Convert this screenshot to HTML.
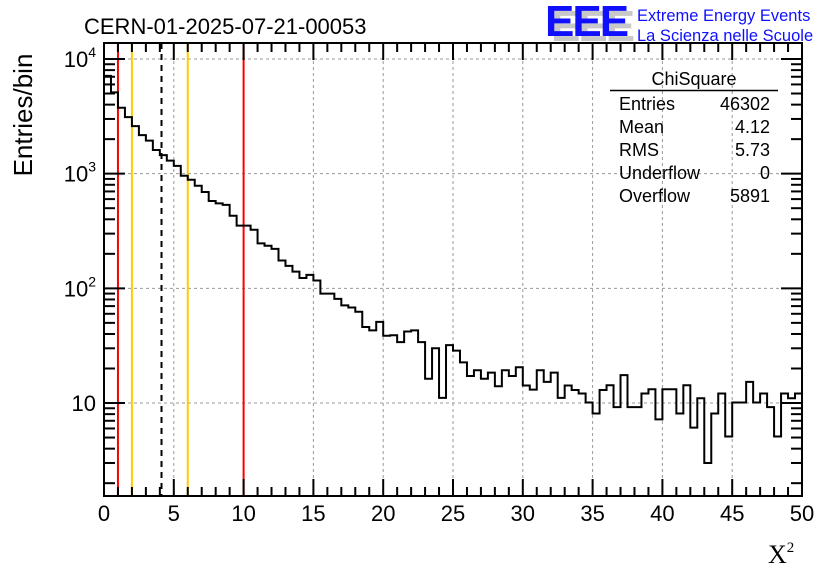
<!DOCTYPE html>
<html><head><meta charset="utf-8"><style>
body{margin:0;background:#fff}
svg{display:block;font-family:"Liberation Sans",sans-serif}
</style></head><body>
<svg id="c" width="836" height="572" viewBox="0 0 836 572">
<text x="84" y="34" font-size="22">CERN-01-2025-07-21-00053</text>
<g>
<text x="551" y="41" font-size="44" font-weight="bold" fill="#c8c8c8" letter-spacing="-2">EEE</text>
<text x="545" y="36" font-size="44" font-weight="bold" fill="#1010ff" letter-spacing="-2">EEE</text>
<text x="637" y="21" font-size="16.5" fill="#1010ff">Extreme Energy Events</text>
<text x="637" y="41" font-size="16.5" fill="#1010ff">La Scienza nelle Scuole</text>
</g>
<g id="grid"></g>
<g id="vlines"></g>
<path id="hist" fill="none" stroke="#000" stroke-width="2"/>
<g id="axes"></g>
<text x="32" y="115" font-size="26" transform="rotate(-90 32 115)" text-anchor="middle">Entries/bin</text>
<text x="768" y="563" font-size="26" font-family="Liberation Serif,serif">X<tspan font-size="15" dy="-11">2</tspan></text>
<g font-size="18">
<text x="694" y="85" text-anchor="middle">ChiSquare</text>
<line x1="610" y1="90.5" x2="778" y2="90.5" stroke="#000" stroke-width="1.5"/>
<text x="619" y="110">Entries</text><text x="770" y="110" text-anchor="end">46302</text>
<text x="619" y="133">Mean</text><text x="770" y="133" text-anchor="end">4.12</text>
<text x="619" y="156">RMS</text><text x="770" y="156" text-anchor="end">5.73</text>
<text x="619" y="179">Underflow</text><text x="770" y="179" text-anchor="end">0</text>
<text x="619" y="202">Overflow</text><text x="770" y="202" text-anchor="end">5891</text>
</g>
</svg>
<script>
const counts=[7130,5120,3760,3110,2600,2170,1940,1610,1450,1300,1170,960,885,785,692,577,551,535,430,352,352,324,247,235,221,175,157,140,123,131,117,90,90,81,71,68,62.5,46,43,51,38.6,39,34,42,43,34,16.3,30,11.1,32,28.6,22.6,17.2,19.3,16.3,18.4,14,19.3,17.2,20.5,14.2,13.1,19.3,15.3,18.4,11.1,14.2,13,12.1,10.1,8.1,13,14.3,9.2,17.5,9.2,9.2,12.1,13.2,7.2,13.2,13.2,8.1,14.3,6.1,11,3.0,8.1,12.1,5.1,10.1,10.1,15.3,10.1,12.1,9.2,5.1,12.1,11,12.1];
const binWidth=0.5;
const xTicks=[0,5,10,15,20,25,30,35,40,45,50];
const yTicks=[10,100,1000,10000];
const refLines=[1,2,4.12,6,10];
const refColors=["#ff0000","#ffcc00","#000","#ffcc00","#ff0000"];
const X0=104,X1=802,Y0=496,Y1=43;
const ymin=Math.pow(10,1-(496-403)/114.7), ymax=Math.pow(10,4+(59-43)/114.7);
const sx=v=>X0+(v-0)/(50-0)*(X1-X0);
const sy=v=>Y0-(Math.log10(v)-Math.log10(ymin))/(Math.log10(ymax)-Math.log10(ymin))*(Y0-Y1);
const NS="http://www.w3.org/2000/svg";
function mk(t,a,p){const e=document.createElementNS(NS,t);for(const k in a)e.setAttribute(k,a[k]);p.appendChild(e);return e;}
const grid=document.getElementById('grid'),axes=document.getElementById('axes'),vl=document.getElementById('vlines');
xTicks.forEach(t=>{if(t>0&&t<50){const l=mk('line',{x1:sx(t),x2:sx(t),y1:Y1,y2:Y0,stroke:'#999','stroke-dasharray':'3,3'},grid);

}});
yTicks.forEach(t=>{const l=mk('line',{x1:X0,x2:X1,y1:sy(t),y2:sy(t),stroke:'#999','stroke-dasharray':'3,3'},grid);

});
refLines.forEach((v,i)=>{const l=mk('line',{x1:sx(v),x2:sx(v),y1:Y1,y2:Y0,stroke:refColors[i],'stroke-width':2,'stroke-dasharray':i==2?'6,5':'none'},vl);

});
let d='M'+sx(0)+','+Y0;
counts.forEach((c,i)=>{const y=Math.max(Y1,Math.min(Y0,sy(c)));d+=' L'+sx(i*binWidth)+','+y+' L'+sx((i+1)*binWidth)+','+y;});
document.getElementById('hist').setAttribute('d',d);
const fr=mk('rect',{x:X0,y:Y1,width:X1-X0,height:Y0-Y1,fill:'none',stroke:'#000','stroke-width':2},axes);


for(let t=0;t<=50;t++){const L=t%5==0?17:9;
mk('line',{x1:sx(t),x2:sx(t),y1:Y0,y2:Y0-L,stroke:'#000','stroke-width':2},axes);
mk('line',{x1:sx(t),x2:sx(t),y1:Y1,y2:Y1+L,stroke:'#000','stroke-width':2},axes);}
xTicks.forEach(t=>{const e=mk('text',{x:sx(t),y:521,'font-size':22,'text-anchor':'middle'},axes);e.textContent=t;

});
for(let dec=0;dec<=4;dec++)for(let m=1;m<=9;m++){const v=m*Math.pow(10,dec);if(v<ymin||v>ymax)continue;const L=m==1?21:11;
mk('line',{x1:X0,x2:X0+L,y1:sy(v),y2:sy(v),stroke:'#000','stroke-width':2},axes);
mk('line',{x1:X1,x2:X1-L,y1:sy(v),y2:sy(v),stroke:'#000','stroke-width':2},axes);}
yTicks.forEach((t,i)=>{const e=mk('text',{x:96,y:sy(t)+8,'font-size':22,'text-anchor':'end'},axes);
if(i==0){e.textContent='10';}else{e.textContent='10';const s=mk('tspan',{'font-size':14,dy:-10},e);s.textContent=String(i+1);}

});
</script>
</body></html>
